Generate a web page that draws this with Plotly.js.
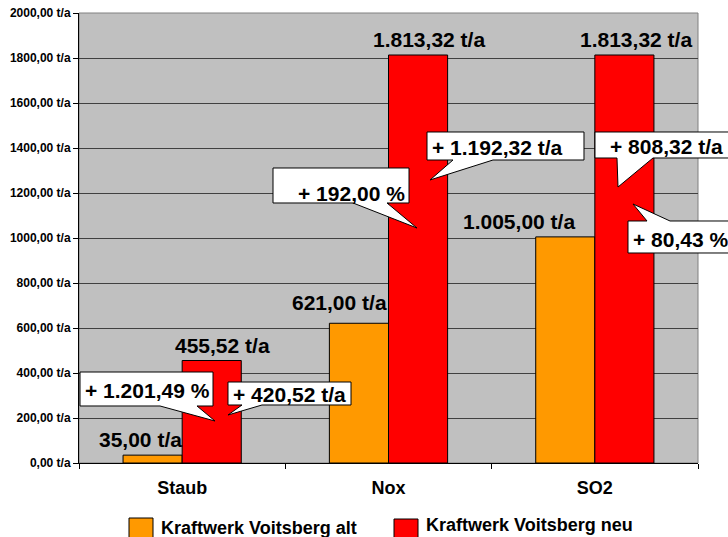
<!DOCTYPE html>
<html>
<head>
<meta charset="utf-8">
<script src="https://cdn.plot.ly/plotly-3.0.1.min.js"></script>
<style>
  html, body { margin: 0; padding: 0; background: #ffffff; }
  #chart { width: 728px; height: 537px; }
</style>
</head>
<body>
<div id="chart"></div>
<script>
// ---- data ----
const categories = ['Staub', 'Nox', 'SO2'];
const seriesNames = ['Kraftwerk Voitsberg alt', 'Kraftwerk Voitsberg neu'];
const altValues = [35.00, 621.00, 1005.00];
const neuValues = [455.52, 1813.32, 1813.32];
const yTickValues = [0, 200, 400, 600, 800, 1000, 1200, 1400, 1600, 1800, 2000];

// ---- formatting helpers (German number format) ----
function fmt(v, group) {
  const parts = Math.abs(v).toFixed(2).split('.');
  let intPart = parts[0];
  if (group) intPart = intPart.replace(/\B(?=(\d{3})+(?!\d))/g, '.');
  return (v < 0 ? '-' : '') + intPart + ',' + parts[1];
}
const yTickText = yTickValues.map(v => fmt(v, false) + ' t/a');
const diffAbs = neuValues.map((v, i) => v - altValues[i]);
const diffPct = neuValues.map((v, i) => (v - altValues[i]) / altValues[i] * 100);
const absText = diffAbs.map(v => '+ ' + fmt(v, true) + ' t/a');
const pctText = diffPct.map(v => '+ ' + fmt(v, true) + ' %');

// ---- geometry ----
const W = 728, H = 537;
const M = { l: 79, r: 30, t: 13, b: 74 };
const plotW = W - M.l - M.r, plotH = H - M.t - M.b;
const px = p => (p - M.l) / plotW;
const py = p => (H - M.b - p) / plotH;

const FONT = 'Liberation Sans, Arial, Helvetica, sans-serif';
const colors = ['#FF9900', '#FF0000'];

const traces = [
  { type: 'bar', name: seriesNames[0], x: categories, y: altValues,
    marker: { color: colors[0], line: { color: '#000000', width: 1 } }, hoverinfo: 'none' },
  { type: 'bar', name: seriesNames[1], x: categories, y: neuValues,
    marker: { color: colors[1], line: { color: '#000000', width: 1 } }, hoverinfo: 'none' }
];

// value labels (anchored to bars with pixel offsets)
const labelShiftsAlt = [[-42, 16], [-49, 21], [-76, 15]];
const labelShiftsNeu = [[40, 15], [40, 16], [41, 16]];
const annotations = [];
categories.forEach((c, i) => {
  annotations.push({ x: c, y: altValues[i], xref: 'x', yref: 'y', text: fmt(altValues[i], true) + ' t/a',
    showarrow: false, xanchor: 'center', yanchor: 'middle',
    xshift: labelShiftsAlt[i][0], yshift: labelShiftsAlt[i][1],
    font: { family: FONT, size: 21, color: '#000000', weight: 'bold' } });
  annotations.push({ x: c, y: neuValues[i], xref: 'x', yref: 'y', text: fmt(neuValues[i], true) + ' t/a',
    showarrow: false, xanchor: 'center', yanchor: 'middle',
    xshift: labelShiftsNeu[i][0], yshift: labelShiftsNeu[i][1],
    font: { family: FONT, size: 21, color: '#000000', weight: 'bold' } });
});

// callouts: box [x0,x1,y0,y1], wedge edge, base [b1,b2], tip [tx,ty], text centre [cx,cy]
const callouts = [
  { text: pctText[0], box: [80, 213, 372, 406], edge: 'bottom', base: [160, 197], tip: [215, 421], c: [147, 390] },
  { text: absText[0], box: [228, 351, 382, 405], edge: 'bottom', base: [242, 262], tip: [228, 415], c: [289, 394] },
  { text: pctText[1], box: [273, 409, 168, 203], edge: 'bottom', base: [353, 387], tip: [417, 228], c: [351, 193] },
  { text: absText[1], box: [427, 584, 132, 160], edge: 'bottom', base: [453, 493], tip: [430, 180], c: [497, 147] },
  { text: absText[2], box: [595, 740, 132, 158], edge: 'bottom', base: [617, 653], tip: [618, 187], c: [666, 146] },
  { text: pctText[2], box: [628, 740, 221, 253], edge: 'top', base: [647, 670], tip: [633, 204], c: [680, 239] }
];

const shapes = [
  // plot area border (grey)
  { type: 'rect', xref: 'paper', yref: 'paper', x0: 0, x1: 1, y0: 0, y1: 1,
    line: { color: '#808080', width: 1 }, layer: 'below' }
];

callouts.forEach(co => {
  const [x0, x1, y0, y1] = co.box;
  let pts;
  if (co.edge === 'bottom') {
    pts = [[x0, y0], [x1, y0], [x1, y1], [co.base[1], y1], co.tip, [co.base[0], y1], [x0, y1]];
  } else {
    pts = [[x0, y0], [co.base[0], y0], co.tip, [co.base[1], y0], [x1, y0], [x1, y1], [x0, y1]];
  }
  const path = 'M ' + pts.map(p => px(p[0]).toFixed(5) + ',' + py(p[1]).toFixed(5)).join(' L ') + ' Z';
  shapes.push({ type: 'path', xref: 'paper', yref: 'paper', path: path,
    fillcolor: '#FFFFFF', line: { color: '#000000', width: 1 }, layer: 'above' });
  annotations.push({ xref: 'paper', yref: 'paper', x: px(co.c[0]), y: py(co.c[1]),
    text: co.text, showarrow: false, xanchor: 'center', yanchor: 'middle',
    font: { family: FONT, size: 21, color: '#000000', weight: 'bold' } });
});

// custom legend
const legendItems = [
  { sw: [129, 153, 518, 545], tx: 159, ty: 528 },
  { sw: [394, 418, 519, 545], tx: 424, ty: 525 }
];
legendItems.forEach((it, i) => {
  shapes.push({ type: 'rect', xref: 'paper', yref: 'paper',
    x0: px(it.sw[0]), x1: px(it.sw[1]), y0: py(it.sw[3]), y1: py(it.sw[2]),
    fillcolor: colors[i], line: { color: '#000000', width: 1 }, layer: 'above' });
  annotations.push({ xref: 'paper', yref: 'paper', x: px(it.tx), y: py(it.ty),
    text: seriesNames[i], showarrow: false, xanchor: 'left', yanchor: 'middle',
    font: { family: FONT, size: 18, color: '#000000', weight: 'bold' } });
});

const layout = {
  width: W, height: H,
  margin: M,
  paper_bgcolor: '#FFFFFF',
  plot_bgcolor: '#C0C0C0',
  showlegend: false,
  barmode: 'group',
  bargap: 0.427,
  bargroupgap: 0,
  font: { family: FONT, color: '#000000' },
  xaxis: {
    type: 'category',
    tickson: 'boundaries',
    ticks: 'outside', ticklen: 5, tickcolor: '#000000', tickwidth: 1,
    showline: true, linecolor: '#000000', linewidth: 1,
    showgrid: false, zeroline: false,
    ticklabelstandoff: 8,
    tickfont: { family: FONT, size: 18, color: '#000000', weight: 'bold' }
  },
  yaxis: {
    range: [0, 2000],
    tickvals: yTickValues, ticktext: yTickText,
    ticks: 'outside', ticklen: 5, tickcolor: '#000000', tickwidth: 1,
    showline: true, linecolor: '#000000', linewidth: 1,
    showgrid: true, gridcolor: '#404040', gridwidth: 1,
    zeroline: false,
    tickfont: { family: FONT, size: 12, color: '#000000', weight: 'bold' }
  },
  shapes: shapes,
  annotations: annotations
};

Plotly.newPlot('chart', traces, layout, { displayModeBar: false, staticPlot: true });
</script>
</body>
</html>
